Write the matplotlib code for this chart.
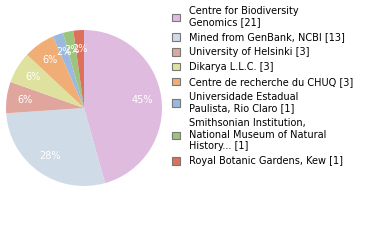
import matplotlib
matplotlib.use("Agg")
import matplotlib.pyplot as plt
from matplotlib.patches import Patch

labels = ["Centre for Biodiversity\nGenomics [21]", "Mined from GenBank, NCBI [13]",
          "University of Helsinki [3]", "Dikarya L.L.C. [3]",
          "Centre de recherche du CHUQ [3]", "Universidade Estadual\nPaulista, Rio Claro [1]",
          "Smithsonian Institution,\nNational Museum of Natural\nHistory... [1]",
          "Royal Botanic Gardens, Kew [1]"]
values = [21, 13, 3, 3, 3, 1, 1, 1]
colors = ["#dfbcdf", "#cfdbe6", "#e0a69e", "#dfe29e", "#f0ae76", "#9bb9de", "#9dc47f", "#dd705a"]

plt.rcParams['font.family'] = ['DejaVu Sans']
fig = plt.figure(figsize=(3.8, 2.4), dpi=100)
ax = fig.add_axes([6/380, 1-186/240, 156/380, 156/240])
wedges, texts, autotexts = ax.pie(values, colors=colors, startangle=90, counterclock=False,
                                  autopct=lambda p: f"{int(p)}%", pctdistance=0.76,
                                  textprops=dict(color="white", fontsize=7))
ax.set_xlim(-1, 1)
ax.set_ylim(-1, 1)
ax.set_aspect('equal')
handles = [Patch(facecolor=c, edgecolor="#777777", linewidth=0.8) for c in colors]
fig.legend(handles, labels, loc="upper left", bbox_to_anchor=(168/380, 1 - 2/240),
           frameon=False, fontsize=7, handlelength=0.8, handleheight=0.8,
           handletextpad=1.0, labelspacing=0.5, borderaxespad=0)
fig.savefig("out.png", dpi=100)
